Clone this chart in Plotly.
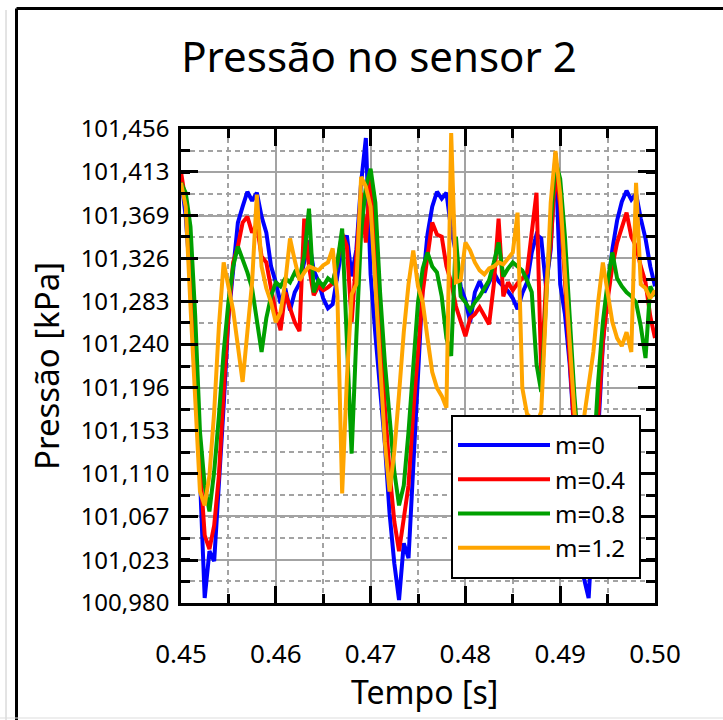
import plotly.graph_objects as go

# ---------------- data ----------------
time_start = 0.45
time_step = 0.0005
n_samples = 101
tempo = [round(time_start + time_step * k, 5) for k in range(n_samples)]

p_m0 = [101.407, 101.368, 101.302, 101.203, 101.106, 100.985, 101.032, 101.022, 101.095, 101.178,
        101.266, 101.318, 101.362, 101.378, 101.393, 101.384, 101.392, 101.368, 101.352, 101.318,
        101.302, 101.281, 101.296, 101.274, 101.292, 101.301, 101.324, 101.344, 101.314, 101.303,
        101.286, 101.276, 101.280, 101.308, 101.338, 101.349, 101.308, 101.335, 101.402, 101.447,
        101.310, 101.250, 101.200, 101.140, 101.070, 101.020, 100.983, 101.040, 101.025, 101.120,
        101.215, 101.300, 101.350, 101.378, 101.393, 101.386, 101.392, 101.355, 101.332, 101.298,
        101.284, 101.262, 101.292, 101.303, 101.292, 101.301, 101.312, 101.303, 101.298, 101.293,
        101.286, 101.275, 101.291, 101.302, 101.332, 101.350, 101.346, 101.298, 101.335, 101.432,
        101.300, 101.270, 101.220, 101.150, 101.070, 101.005, 100.985, 101.060, 101.150, 101.240,
        101.295, 101.335, 101.364, 101.383, 101.394, 101.385, 101.391, 101.366, 101.346, 101.318,
        101.298]

p_m04 = [101.413, 101.382, 101.312, 101.216, 101.118, 101.048, 101.034, 101.058, 101.108, 101.192,
         101.268, 101.322, 101.338, 101.362, 101.368, 101.352, 101.360, 101.328, 101.322, 101.296,
         101.272, 101.254, 101.292, 101.276, 101.262, 101.253, 101.366, 101.318, 101.289, 101.298,
         101.294, 101.297, 101.301, 101.322, 101.351, 101.338, 101.262, 101.328, 101.392, 101.342,
         101.413, 101.335, 101.255, 101.178, 101.112, 101.062, 101.032, 101.062, 101.098, 101.172,
         101.238, 101.292, 101.328, 101.362, 101.350, 101.348, 101.318, 101.302, 101.278, 101.262,
         101.248, 101.266, 101.270, 101.277, 101.268, 101.260, 101.300, 101.366, 101.288, 101.302,
         101.294, 101.301, 101.306, 101.312, 101.352, 101.392, 101.210, 101.300, 101.340, 101.414,
         101.380, 101.300, 101.230, 101.150, 101.085, 101.040, 101.022, 101.070, 101.165, 101.242,
         101.284, 101.318, 101.342, 101.358, 101.372, 101.348, 101.338, 101.318, 101.302, 101.268,
         101.246]

p_m08 = [101.402, 101.392, 101.358, 101.268, 101.152, 101.098, 101.072, 101.112, 101.168, 101.232,
         101.282, 101.318, 101.338, 101.326, 101.312, 101.296, 101.262, 101.232, 101.266, 101.288,
         101.302, 101.298, 101.306, 101.302, 101.312, 101.306, 101.328, 101.376, 101.292, 101.304,
         101.298, 101.306, 101.302, 101.322, 101.356, 101.248, 101.130, 101.248, 101.352, 101.398,
         101.416, 101.382, 101.292, 101.222, 101.168, 101.112, 101.078, 101.098, 101.152, 101.212,
         101.282, 101.316, 101.332, 101.318, 101.312, 101.288, 101.246, 101.228, 101.348, 101.288,
         101.282, 101.274, 101.282, 101.288, 101.296, 101.304, 101.322, 101.342, 101.308, 101.316,
         101.322, 101.318, 101.314, 101.304, 101.292, 101.220, 101.192, 101.282, 101.362, 101.424,
         101.406, 101.348, 101.268, 101.188, 101.128, 101.090, 101.078, 101.122, 101.202, 101.262,
         101.302, 101.332, 101.306, 101.298, 101.292, 101.288, 101.282, 101.258, 101.226, 101.298,
         101.288]

p_m12 = [101.402, 101.378, 101.278, 101.182, 101.092, 101.078, 101.108, 101.172, 101.258, 101.322,
         101.296, 101.274, 101.238, 101.202, 101.252, 101.302, 101.390, 101.318, 101.296, 101.282,
         101.262, 101.272, 101.302, 101.346, 101.324, 101.304, 101.312, 101.318, 101.316, 101.314,
         101.319, 101.322, 101.336, 101.288, 101.090, 101.205, 101.290, 101.300, 101.408, 101.398,
         101.378, 101.300, 101.218, 101.142, 101.092, 101.132, 101.190, 101.252, 101.300, 101.334,
         101.298, 101.282, 101.246, 101.212, 101.196, 101.188, 101.176, 101.452, 101.302, 101.304,
         101.342, 101.334, 101.322, 101.314, 101.310, 101.316, 101.318, 101.322, 101.320, 101.326,
         101.332, 101.372, 101.196, 101.170, 101.165, 101.160, 101.172, 101.282, 101.382, 101.434,
         101.390, 101.312, 101.240, 101.172, 101.132, 101.165, 101.198, 101.232, 101.282, 101.322,
         101.292, 101.262, 101.246, 101.238, 101.252, 101.232, 101.402, 101.300, 101.296, 101.286,
         101.294]

series_names = ["m=0", "m=0.4", "m=0.8", "m=1.2"]
series_values = [p_m0, p_m04, p_m08, p_m12]
series_colors = ["#0000FF", "#FF0000", "#00A000", "#FFA500"]

ytick_vals = [100.980, 101.023, 101.067, 101.110, 101.153, 101.196,
              101.240, 101.283, 101.326, 101.369, 101.413, 101.456]
ytick_text = ["100,980", "101,023", "101,067", "101,110", "101,153", "101,196",
              "101,240", "101,283", "101,326", "101,369", "101,413", "101,456"]
xtick_vals = [0.45, 0.46, 0.47, 0.48, 0.49, 0.50]
xtick_text = ["0.45", "0.46", "0.47", "0.48", "0.49", "0.50"]

# ---------------- figure ----------------
W, H = 723, 720
L, R, T, B = 181, 68, 129, 117
PW, PH = W - L - R, H - T - B

def px_x(px):
    return (px - L) / PW

def px_y(py):
    return (H - B - py) / PH

fig = go.Figure()
for name, vals, col in zip(series_names, series_values, series_colors):
    fig.add_trace(go.Scatter(x=tempo, y=vals, mode="lines", name=name,
                             line=dict(color=col, width=4)))

grid_col = "#A3A3A3"
common_axis = dict(
    ticks="inside", ticklen=17, tickwidth=2.5, tickcolor="black",
    showline=True, linewidth=2.5, linecolor="black", mirror="allticks",
    showgrid=True, gridcolor=grid_col, gridwidth=2, zeroline=False,
)

fig.update_layout(
    width=W, height=H,
    margin=dict(l=L, r=R, t=T, b=B, autoexpand=False),
    paper_bgcolor="white", plot_bgcolor="white",
    font=dict(family="Noto Sans", color="black"),
    title=dict(text="Pressão no sensor 2", xref="container", x=379 / W, xanchor="center",
               yref="container", y=1 - 57 / H, yanchor="middle", font=dict(size=42)),
    xaxis=dict(range=[0.45, 0.50], tickmode="array", tickvals=xtick_vals, ticktext=xtick_text,
               tickfont=dict(size=26), ticklabelstandoff=26,
               minor=dict(dtick=0.005, tick0=0.45, ticks="inside", ticklen=9, tickwidth=2.5,
                          tickcolor="black", showgrid=True, gridcolor=grid_col, gridwidth=1.7,
                          griddash="5px,4px"),
               **common_axis),
    yaxis=dict(range=[100.980, 101.456], tickmode="array", tickvals=ytick_vals, ticktext=ytick_text,
               tickfont=dict(size=24), ticklabelstandoff=4,
               title=dict(text="Pressão [kPa]", font=dict(size=33), standoff=12),
               minor=dict(dtick=(101.456 - 100.980) / 22, tick0=100.980, ticks="inside", ticklen=9,
                          tickwidth=2.5, tickcolor="black", showgrid=True, gridcolor=grid_col,
                          gridwidth=1.7, griddash="5px,4px"),
               **common_axis),
    legend=dict(x=px_x(453), y=px_y(423), xanchor="left", yanchor="top",
                bgcolor="rgba(0,0,0,0)", borderwidth=0,
                font=dict(size=24), itemwidth=92),
    annotations=[
        dict(text="Tempo [s]", xref="paper", yref="paper", x=px_x(424), y=px_y(691),
             xanchor="center", yanchor="middle", showarrow=False, font=dict(size=32)),
    ],
    shapes=[
        # legend box
        dict(type="rect", xref="paper", yref="paper", x0=px_x(452), x1=px_x(640),
             y0=px_y(578), y1=px_y(416), fillcolor="white", line=dict(color="black", width=2),
             layer="above"),
        # outer panel frame
        dict(type="line", xref="paper", yref="paper", x0=px_x(16.5), x1=px_x(740), y0=px_y(8.5), y1=px_y(8.5),
             line=dict(color="black", width=3)),
        dict(type="line", xref="paper", yref="paper", x0=px_x(16.5), x1=px_x(16.5), y0=px_y(8.5), y1=px_y(740),
             line=dict(color="black", width=3)),
        dict(type="line", xref="paper", yref="paper", x0=px_x(6), x1=px_x(6), y0=px_y(10), y1=px_y(740),
             line=dict(color="#C8C8C8", width=1)),
        dict(type="line", xref="paper", yref="paper", x0=px_x(-5), x1=px_x(740), y0=px_y(718), y1=px_y(718),
             line=dict(color="#DDDDDD", width=1)),
    ],
)

fig.write_html("out.html")
